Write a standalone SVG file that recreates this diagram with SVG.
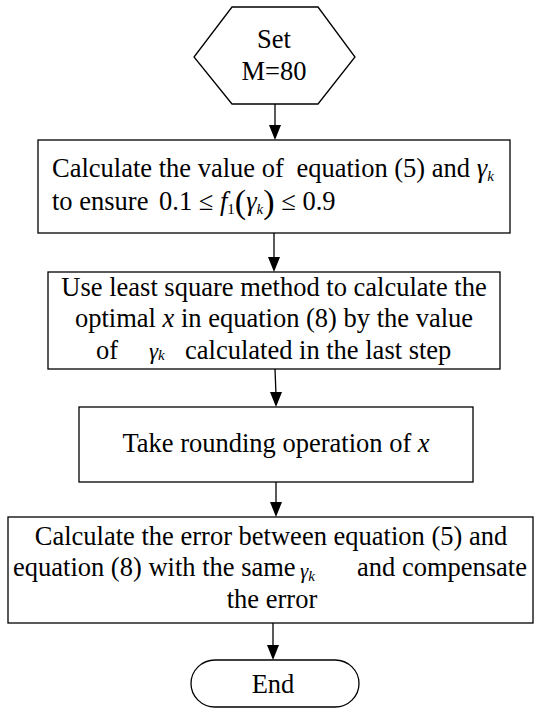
<svg xmlns="http://www.w3.org/2000/svg" width="535" height="711" viewBox="0 0 535 711" font-family="'Liberation Serif', 'Times New Roman', Times, serif">
  <style>
    .shape { fill: #fff; stroke: #000; stroke-width: 1.3; }
    .edge { fill: none; stroke: #000; stroke-width: 1.3; }
    .t { font-family: 'Liberation Serif', 'Times New Roman', Times, serif; font-size: 26.5px; fill: #000; }
    .c { text-anchor: middle; }
    .e { text-anchor: end; }
    .i { font-style: italic; }
    .sub { font-size: 15px; font-style: italic; }
    .subr { font-size: 15px; }
    .paren { font-size: 34px; }
    .arrow { fill: #000; }
  </style>
  <rect width="535" height="711" fill="#fff"/>

  <!-- connectors: shafts, then filled arrowheads -->
  <g id="connectors">
    <line class="edge" x1="275" y1="104" x2="275" y2="128"/>
    <line class="edge" x1="274" y1="233" x2="274" y2="260"/>
    <line class="edge" x1="275" y1="369" x2="276" y2="395"/>
    <line class="edge" x1="276" y1="482" x2="276" y2="505"/>
    <line class="edge" x1="273" y1="623" x2="273" y2="648"/>
    <path class="arrow" d="M269,125 L281,125 L275,140 Z"/>
    <path class="arrow" d="M268,257 L280,257 L274,272 Z"/>
    <path class="arrow" d="M270,392 L282,392 L276,407 Z"/>
    <path class="arrow" d="M270,502 L282,502 L276,517 Z"/>
    <path class="arrow" d="M267,645 L279,645 L273,660 Z"/>
  </g>

  <!-- start: hexagon -->
  <g id="start">
    <polygon class="shape" points="232,7 318,7 355,57 318,104 232,104 194,57"/>
    <text class="t c" x="274" y="48">Set</text>
    <text class="t c" x="274" y="80">M=80</text>
  </g>

  <!-- step 1 -->
  <g id="step1">
    <rect class="shape" x="38" y="140" width="472" height="93"/>
    <text class="t" x="52" y="177">Calculate the value of <tspan dx="6">equation (5) and </tspan><tspan class="i">γ</tspan><tspan class="sub" dy="4">k</tspan></text>
    <text class="t" x="52" y="210">to ensure <tspan dx="4">0.1 ≤ </tspan><tspan class="i">f</tspan><tspan class="subr" dy="4">1</tspan><tspan class="paren" dy="-1">(</tspan><tspan class="i" dy="-3">γ</tspan><tspan class="sub" dy="4">k</tspan><tspan class="paren" dy="-1">)</tspan><tspan dy="-3"> ≤ 0.9</tspan></text>
  </g>

  <!-- step 2 -->
  <g id="step2">
    <rect class="shape" x="48" y="272" width="452" height="97"/>
    <text class="t c" x="274" y="296">Use least square method to calculate the</text>
    <text class="t c" x="274" y="327">optimal <tspan class="i">x</tspan> in equation (8) by the value</text>
    <text class="t" x="96" y="359">of</text>
    <text class="t" x="149" y="359"><tspan class="i" font-size="23">γ</tspan><tspan class="sub" font-size="14" dy="1">k</tspan></text>
    <text class="t" x="185" y="359">calculated in the last step</text>
  </g>

  <!-- step 3 -->
  <g id="step3">
    <rect class="shape" x="79" y="407" width="394" height="75"/>
    <text class="t c" x="276" y="452">Take rounding operation of <tspan class="i">x</tspan></text>
  </g>

  <!-- step 4 -->
  <g id="step4">
    <rect class="shape" x="8" y="517" width="525" height="106"/>
    <text class="t c" x="271" y="545">Calculate the error between equation (5) and</text>
    <text class="t" x="13" y="576">equation (8) with the same</text>
    <text class="t" x="300" y="578"><tspan class="i" font-size="21">γ</tspan><tspan class="sub" font-size="13" dy="3">k</tspan></text>
    <text class="t e" x="527" y="576">and compensate</text>
    <text class="t c" x="272" y="608">the error</text>
  </g>

  <!-- end terminal -->
  <g id="end">
    <rect class="shape" x="191" y="660" width="168" height="47" rx="24" ry="24"/>
    <text class="t c" x="273" y="693">End</text>
  </g>
</svg>
